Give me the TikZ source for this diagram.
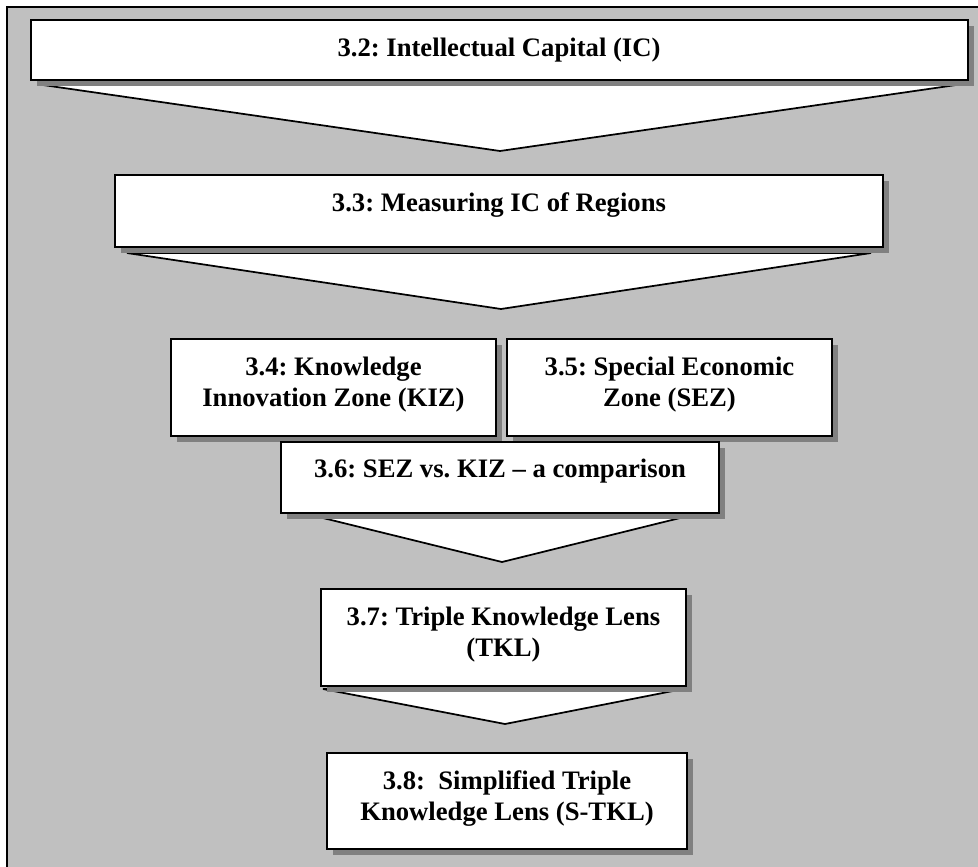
\documentclass[tikz,border=0pt]{standalone}
\usepackage{fontspec}
\setmainfont{Liberation Serif}
\usetikzlibrary{calc,shadows}
\definecolor{panelgray}{HTML}{C0C0C0}
\definecolor{shadowgray}{HTML}{808080}
\frenchspacing
\begin{document}
\begin{tikzpicture}[x=0.75pt,y=-0.75pt,
  panel/.style={fill=panelgray,draw=black,line width=1.5pt},
  box/.style={rectangle,draw=black,fill=white,line width=1.4pt,inner sep=0pt,outer sep=0pt,
    drop shadow={fill=shadowgray,opacity=1,shadow xshift=4.5pt,shadow yshift=-4.5pt}},
  frameonly/.style={rectangle,inner sep=0pt,outer sep=0pt},
  funnel/.style={draw=black,fill=white,line width=1.3pt,line join=miter},
  label/.style={inner sep=0pt,anchor=base,font=\bfseries\fontsize{20}{23.6}\selectfont}]
\useasboundingbox (0,0) rectangle (978,867);
\clip (0,0) rectangle (978,867);
\fill[white] (0,0) rectangle (978,867);
% grey panel, its right and bottom edges run off the page
\draw[panel] (7,7) rectangle (1010,900);

% box centres (px units)
\coordinate (c1) at (499.5,50);
\coordinate (c2) at (499,211);
\coordinate (c34) at (333.5,387.5);
\coordinate (c35) at (669.5,387.5);
\coordinate (c36) at (500,477.5);
\coordinate (c37) at (503.5,637.5);
\coordinate (c38) at (507,801);

% invisible outlines used to place the funnels, which lie under the boxes
\node[frameonly,minimum width=702.75pt,minimum height=45pt] (g1) at (c1) {};
\node[frameonly,minimum width=576pt,minimum height=54pt] (g2) at (c2) {};
\node[frameonly,minimum width=328.5pt,minimum height=53.25pt] (g36) at (c36) {};
\node[frameonly,minimum width=273.75pt,minimum height=72.75pt] (g37) at (c37) {};
\node[frameonly,minimum width=270pt,minimum height=72pt] (g38) at (c38) {};

% funnels between the levels
\draw[funnel] ($(g1.south west)+(12,5)$) -- ($(g1.south east)+(-12,5)$) -- ($(g2.north)+(1,-24)$) -- cycle;
\draw[funnel] ($(g2.south west)+(12,6)$) -- ($(g2.south east)+(-12,6)$) -- ($(g2.south)+(2,62)$) -- cycle;
\draw[funnel] ($(g36.south west)+(42,5)$) -- ($(g36.south east)+(-39,5)$) -- ($(g37.north)+(-1.5,-27)$) -- cycle;
\draw[funnel] ($(g37.south west)+(2,3)$) -- ($(g37.south east)+(-3,3)$) -- ($(g38.north)+(-2,-29)$) -- cycle;

% boxes with their shadows
\node[box,minimum width=702.75pt,minimum height=45pt] (b1) at (c1) {};
\node[box,minimum width=576pt,minimum height=54pt] (b2) at (c2) {};
\node[box,minimum width=243.75pt,minimum height=72.75pt] (b34) at (c34) {};
\node[box,minimum width=243.75pt,minimum height=72.75pt] (b35) at (c35) {};
\node[box,minimum width=328.5pt,minimum height=53.25pt] (b36) at (c36) {};
\node[box,minimum width=273.75pt,minimum height=72.75pt] (b37) at (c37) {};
\node[box,minimum width=270pt,minimum height=72pt] (b38) at (c38) {};

% titles
\node[label] (t1) at (499,57) {3.2: Intellectual Capital (IC)};
\node[label] (t2) at (499,211) {3.3: Measuring IC of Regions};
\node[label] (t34) at (333.5,375) {\begin{tabular}[t]{@{}c@{}}3.4: Knowledge\\Innovation Zone (KIZ)\end{tabular}};
\node[label] (t35) at (669.5,375) {\begin{tabular}[t]{@{}c@{}}3.5: Special Economic\\Zone (SEZ)\end{tabular}};
\node[label] (t36) at (500,477) {3.6: SEZ vs. KIZ \textendash{} a comparison};
\node[label] (t37) at (503.5,625) {\begin{tabular}[t]{@{}c@{}}3.7: Triple Knowledge Lens\\(TKL)\end{tabular}};
\node[label] (t38) at (507,789) {\begin{tabular}[t]{@{}c@{}}3.8:\ \ Simplified Triple\\Knowledge Lens (S-TKL)\end{tabular}};
\end{tikzpicture}
\end{document}
